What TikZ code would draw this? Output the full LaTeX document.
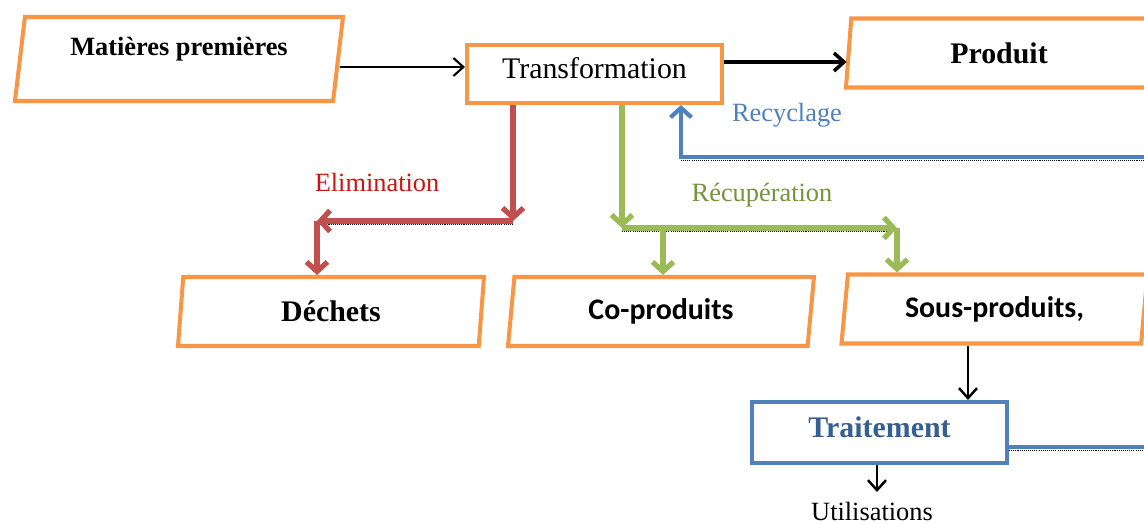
\documentclass[tikz,border=0pt]{standalone}
\usepackage{fontspec}
\setmainfont{Liberation Serif}
\newfontfamily\calibri{Carlito}
\usetikzlibrary{shapes.geometric,arrows.meta}

\definecolor{orangebox}{RGB}{247,150,70}
\definecolor{elimred}{RGB}{192,80,77}
\definecolor{recupgreen}{RGB}{155,187,89}
\definecolor{recycblue}{RGB}{79,129,189}
\definecolor{elimtext}{RGB}{204,20,20}
\definecolor{recuptext}{RGB}{118,146,60}
\definecolor{traitblue}{RGB}{54,95,145}

\begin{document}
\begin{tikzpicture}[
    parabox/.style={draw=orangebox, line width=2.3pt, trapezium, trapezium left angle=76,
        trapezium right angle=104, trapezium stretches body, minimum width=6.12cm,
        minimum height=1.38cm, inner sep=0pt, font=\bfseries\fontsize{17}{20}\selectfont},
    rectbox/.style={rectangle, line width=2.3pt, minimum width=5.1cm, inner sep=0pt},
    flowarrow/.style={draw=black, -{Straight Barb[length=2mm,width=3.6mm]}},
    colarrow/.style={line width=3pt, -{Straight Barb[length=1.9mm,width=4.2mm]}},
    shadowline/.style={preaction={draw=black, line width=0.5pt, dash pattern=on 0.6pt off 0.6pt, -,
        transform canvas={yshift=-1.9pt}}},
    lbl/.style={font=\fontsize{15}{18}\selectfont, inner sep=0pt}
]
    \useasboundingbox (0,0) rectangle (22.88,-10.48);

    % boites
    \node[parabox, text depth=14pt, minimum width=6.56cm, minimum height=1.68cm, trapezium left angle=77,
        trapezium right angle=103, font=\bfseries\fontsize{15}{18}\selectfont] (mp) at (3.58,-1.18) {Matières premières};
    \node[rectbox, draw=orangebox, minimum height=1.16cm, text depth=7pt, font=\fontsize{17}{20}\selectfont] (trans) at (11.89,-1.48) {Transformation};
    \node[parabox] (prod) at (19.98,-1.06) {Produit};
    \node[parabox] (dech) at (6.62,-6.23) {Déchets};
    \node[parabox, font=\calibri\bfseries\fontsize{17}{20}\selectfont] (coprod) at (13.22,-6.23) {Co-produits};
    \node[parabox, font=\calibri\bfseries\fontsize{17}{20}\selectfont] (sousprod) at (19.89,-6.18) {Sous-produits,};
    \node[rectbox, draw=recycblue, minimum height=1.22cm, text depth=6pt, text=traitblue, font=\bfseries\fontsize{17}{20}\selectfont] (trait) at (17.59,-8.65) {Traitement};

    % textes
    \node[lbl, text=elimtext] (elimlbl) at (7.54,-3.64) {Elimination};
    \node[lbl, text=recuptext] (recuplbl) at (15.24,-3.9) {Récupération};
    \node[lbl, text=recycblue] (recyclbl) at (15.74,-2.3) {Recyclage};
    \node[lbl, anchor=north, inner ysep=0.2cm] (util) at (17.44,-9.84) {Utilisations};

    \coordinate (elimA) at (10.26,-4.42);
    \coordinate (elimB) at (6.34,-4.42);
    \coordinate (recupA) at (12.44,-4.56);
    \coordinate (recupB) at (17.94,-4.56);
    \coordinate (recupC) at (13.26,-4.56);
    \coordinate (recycA) at (23.5,-3.14);
    \coordinate (recycB) at (13.62,-3.14);
    \coordinate (sousOut) at (19.36,-7.5);
    \coordinate (utilIn) at (17.54,-9.8);

    % fleches noires
    \draw[flowarrow, line width=1.2pt] ([yshift=-0.16cm]mp.east) -- ([yshift=-0.16cm]mp.east -| trans.west);
    \draw[flowarrow, line width=2pt] ([yshift=0.24cm]trans.east) -- ([yshift=0.24cm]trans.east -| prod.west);
    \draw[flowarrow, line width=1.4pt] (sousprod.south -| sousOut) -- (trait.north -| sousOut);
    \draw[flowarrow, line width=1.4pt] (trait.south -| utilIn) -- (util.north -| utilIn);

    % elimination
    \draw[colarrow, elimred] (trans.south -| elimA) -- (elimA);
    \draw[colarrow, elimred, shadowline] (elimA) -- (elimB);
    \draw[colarrow, elimred] (elimB) -- (elimB |- dech.north);

    % recuperation
    \draw[colarrow, recupgreen] (trans.south -| recupA) -- (recupA);
    \draw[colarrow, recupgreen, shadowline] (recupA) -- (recupB);
    \draw[colarrow, recupgreen] (recupB) -- (recupB |- sousprod.north);
    \draw[colarrow, recupgreen] (recupC) -- (recupC |- coprod.north);

    % recyclage
    \draw[colarrow, recycblue, line width=2.4pt, shadowline] ([yshift=-0.29cm]trait.east) -| (recycA) -- (recycB) -- (recycB |- trans.south);
\end{tikzpicture}
\end{document}
